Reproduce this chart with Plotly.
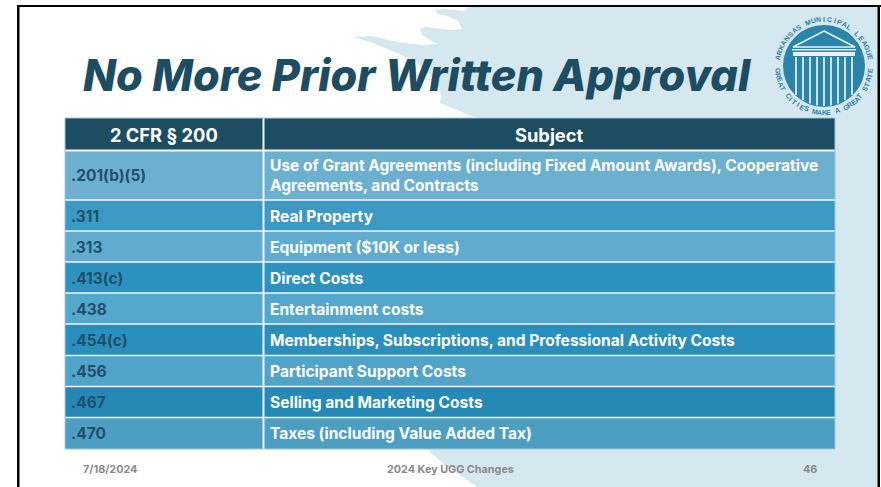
import math
import plotly.graph_objects as go

W, H = 881, 487
TITLE = "No More Prior Written Approval"
HEADERS = ["2 CFR § 200", "Subject"]
SECTIONS = [".201(b)(5)", ".311", ".313", ".413(c)", ".438", ".454(c)", ".456", ".467", ".470"]
SUBJECTS = [
    "Use of Grant Agreements (including Fixed Amount Awards), Cooperative<br>Agreements, and Contracts",
    "Real Property",
    "Equipment ($10K or less)",
    "Direct Costs",
    "Entertainment costs",
    "Memberships, Subscriptions, and Professional Activity Costs",
    "Participant Support Costs",
    "Selling and Marketing Costs",
    "Taxes (including Value Added Tax)",
]
ROW_COLORS = ["#6cb0cf", "#3b99c3", "#5faccf", "#2c93c0", "#55a7cb", "#2a8fbd", "#51a3c8", "#2589b5", "#4c9fc2"]
FOOT_DATE, FOOT_MID, FOOT_NUM = "7/18/2024", "2024 Key UGG Changes", "46"
LOGO_TOP = "ARKANSAS MUNICIPAL LEAGUE"
LOGO_BOTTOM = "GREAT CITIES MAKE A GREAT STATE"

ROW_EDGES = [150.5, 200, 231, 262, 293, 324, 355.5, 386.5, 417.5, 449]
TABLE_L, TABLE_M, TABLE_R, TABLE_T = 65, 263.5, 835, 118
FONT = "Inter"
DARK = "#1c4d62"
TEAL = "#2c84a8"
BG = "#d5e8f0"

WAVE = [(467,7),(465,11),(444,9),(436,10),(437,14),(447,16),(458,21),(462,29),(452,30),(433,28),(426,27),
        (420,29),(422,35),(430,40),(438,44),(423,45),(397,42),(373,36),(353,37),(373,43),(397,53),(417,63),
        (430,75),(440,90),(441,97),(440,103),(457,110),(473,117),(600,130),(420,440),(428,450),(447,467),
        (463,477),(477,487),(878,487),(878,7)]

def poly(points, **kw):
    d = "M" + " L".join(f"{x},{y}" for x, y in points) + " Z"
    return dict(type="path", path=d, xref="x", yref="y", **kw)

shapes = [poly(WAVE, fillcolor=BG, line_width=0, layer="below")]

# slide frame
for x0, y0, x1, y1, c in [(17, 5, 19.5, H, "#000000"), (17, 5, 881, 7, "#000000"), (877.5, 5, 880, H, "#000000")]:
    shapes.append(dict(type="rect", x0=x0, y0=y0, x1=x1, y1=y1, fillcolor=c, line_width=0))

# table
shapes.append(dict(type="rect", x0=TABLE_L, y0=TABLE_T, x1=TABLE_R, y1=ROW_EDGES[0], fillcolor=DARK, line_width=0))
for i, c in enumerate(ROW_COLORS):
    shapes.append(dict(type="rect", x0=TABLE_L, x1=TABLE_R, y0=ROW_EDGES[i], y1=ROW_EDGES[i + 1], fillcolor=c, line_width=0))
for e in ROW_EDGES[:-1]:
    shapes.append(dict(type="line", x0=TABLE_L, x1=TABLE_R, y0=e, y1=e, line=dict(color="#f2f8fb", width=2 if e == ROW_EDGES[0] else 1.5)))
shapes.append(dict(type="line", x0=TABLE_M, x1=TABLE_M, y0=TABLE_T, y1=ROW_EDGES[-1], line=dict(color="#eef6f9", width=2)))
shapes.append(dict(type="rect", x0=TABLE_L, x1=TABLE_R, y0=TABLE_T, y1=ROW_EDGES[-1], fillcolor="rgba(0,0,0,0)", line=dict(color="#a3c6d8", width=1)))

# logo
CX, CY, R = 824, 66, 41
shapes.append(dict(type="circle", x0=CX - R, x1=CX + R, y0=CY - R, y1=CY + R, fillcolor=TEAL, line_width=0))
shapes.append(poly([(CX, 31), (CX + 31, 47), (CX - 31, 47)], fillcolor="rgba(0,0,0,0)", line=dict(color="#e8f3f7", width=1.5)))
shapes.append(dict(type="rect", x0=CX - 32, x1=CX + 32, y0=CY - 17, y1=CY - 15.5, fillcolor="#e8f3f7", line_width=0))
shapes.append(dict(type="rect", x0=CX - 31, x1=CX + 31, y0=CY - 14, y1=CY - 10, fillcolor="#e8f3f7", line_width=0))
for k in range(9):
    x = CX - 28 + k * 7
    half = math.sqrt(max(R * R - (x - CX) ** 2, 0))
    shapes.append(dict(type="line", x0=x, x1=x, y0=CY - 9, y1=CY + half - 1, line=dict(color="#dcedf3", width=1.8)))

anns = []
def text(x, y, s, size, color, anchor="left", family=FONT, weight=700, **kw):
    anns.append(dict(x=x, y=y, text=s, xref="x", yref="y", xanchor=anchor, yanchor="middle", showarrow=False,
                     font=dict(family=family, size=size, color=color, weight=weight), align="left", **kw))

text(81, 75, f"<i>{TITLE}</i>", 43.2, DARK, weight=800)
text((TABLE_L + TABLE_M) / 2, 134.5, HEADERS[0], 18.3, "#ffffff", "center")
text((TABLE_M + TABLE_R) / 2, 134.5, HEADERS[1], 18.3, "#ffffff", "center")
for i in range(len(SECTIONS)):
    y = (ROW_EDGES[i] + ROW_EDGES[i + 1]) / 2 + 0.5
    text(68.5, y, SECTIONS[i], 15.5, "#1f5069")
    text(268, y, SUBJECTS[i], 15.55, "#ffffff")
text(80.5, 469, FOOT_DATE, 10.8, "#8a8a8a")
text(450, 469, FOOT_MID, 10.8, "#8a8a8a", "center")
text(810, 469, FOOT_NUM, 10.8, "#8a8a8a", "center")

RT = 46.5
for s, span, bottom in [(LOGO_TOP, 160, False), (LOGO_BOTTOM, 168, True)]:
    n = len(s)
    for i, ch in enumerate(s):
        if ch == " ":
            continue
        t = -span / 2 + span * i / (n - 1)
        a = math.radians(t)
        if bottom:
            x, y, rot = CX + RT * math.sin(a), CY + RT * math.cos(a), -t
        else:
            x, y, rot = CX + RT * math.sin(a), CY - RT * math.cos(a), t
        anns.append(dict(x=x, y=y, text=ch, xref="x", yref="y", showarrow=False, textangle=rot,
                         font=dict(family="Liberation Sans", size=7, color=TEAL, weight=700)))

fig = go.Figure()
fig.update_layout(
    width=W, height=H, margin=dict(l=0, r=0, t=0, b=0), paper_bgcolor="#ffffff", plot_bgcolor="#ffffff",
    xaxis=dict(range=[0, W], visible=False, fixedrange=True),
    yaxis=dict(range=[H, 0], visible=False, fixedrange=True),
    showlegend=False, shapes=shapes, annotations=anns,
)
fig.write_html("out.html", config=dict(displayModeBar=False),
               post_script="document.body.style.margin='0';document.body.style.overflow='hidden';")
